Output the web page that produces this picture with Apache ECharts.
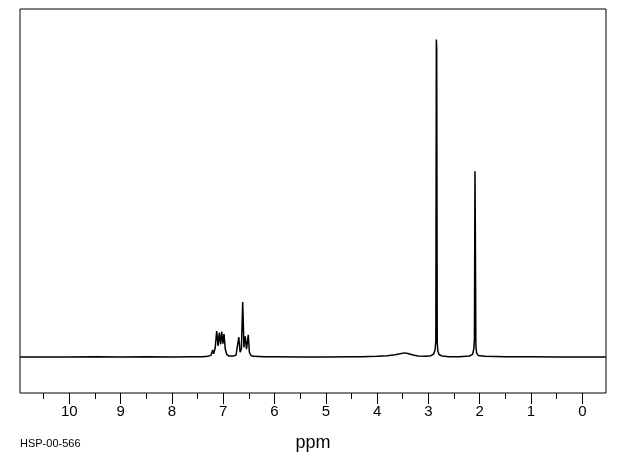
<!DOCTYPE html>
<html>
<head>
<meta charset="utf-8">
<script src="https://cdn.jsdelivr.net/npm/echarts@6/dist/echarts.min.js"></script>
<style>html,body{margin:0;padding:0;background:#fff;}#c{width:620px;height:455px;}</style>
</head>
<body>
<div id="c"></div>
<script>
// Chemical shift (ppm) and relative intensity
var ppm = [10.96, 10.0, 9.5, 9.0, 8.5, 8.0, 7.6, 7.4, 7.30, 7.24, 7.205, 7.185, 7.155, 7.127, 7.10, 7.076, 7.05, 7.029, 7.005, 6.984, 6.96, 6.93, 6.89, 6.80, 6.75, 6.72, 6.696, 6.67, 6.645, 6.620, 6.595, 6.571, 6.545, 6.511, 6.49, 6.46, 6.42, 6.2, 6.0, 5.5, 5.0, 4.5, 4.3, 4.0, 3.8, 3.65, 3.55, 3.47, 3.40, 3.30, 3.20, 3.05, 2.95, 2.90, 2.87, 2.855, 2.845, 2.838, 2.828, 2.815, 2.79, 2.73, 2.6, 2.4, 2.2, 2.14, 2.115, 2.103, 2.092, 2.085, 2.075, 2.06, 2.03, 1.9, 1.5, 1.0, 0.5, 0.0, -0.46];
var intensity = [0, 0, 0.1, 0, 0.1, 0, 0.1, 0.1, 0.2, 0.5, 2.2, 1.0, 3.0, 8.2, 3.5, 7.6, 4.0, 8.0, 4.2, 7.2, 2.5, 0.8, 0.3, 0.3, 0.6, 1.2, 6.3, 1.5, 2.5, 17.3, 3.0, 6.5, 2.5, 7.0, 1.5, 0.5, 0.2, 0.1, 0.1, 0, 0, 0.1, 0.1, 0.2, 0.4, 0.7, 1.0, 1.3, 1.1, 0.6, 0.3, 0.2, 0.4, 0.9, 2.2, 5.0, 100, 97, 4.5, 1.8, 0.7, 0.3, 0.1, 0.1, 0.3, 0.8, 2.5, 5.5, 58.5, 40.8, 3.5, 1.2, 0.5, 0.2, 0.1, 0.1, 0, 0, 0];
var majorTicks = [0, 1, 2, 3, 4, 5, 6, 7, 8, 9, 10];
var minorTicks = [0.5, 1.5, 2.5, 3.5, 4.5, 5.5, 6.5, 7.5, 8.5, 9.5, 10.5];
var axisName = 'ppm';
var sampleCode = 'HSP-00-566';

var chart = echarts.init(document.getElementById('c'), null, {renderer: 'canvas'});
var xMin = -0.462, xMax = 10.961;
chart.setOption({
  animation: false,
  backgroundColor: '#fff',
  grid: {left: 20, top: 9, width: 586, height: 384, containLabel: false, outerBoundsMode: 'none', show: true, borderColor: '#000', borderWidth: 1, backgroundColor: 'transparent'},
  xAxis: [{
    type: 'value', min: xMin, max: xMax, inverse: true,
    axisLine: {show: false, onZero: false},
    splitLine: {show: false},
    axisTick: {show: true, customValues: majorTicks, length: 11, lineStyle: {color: '#000', width: 1}},
    axisLabel: {show: true, customValues: majorTicks, margin: 11, color: '#000', fontFamily: 'Liberation Sans Narrow, Liberation Sans', fontSize: 15},
    name: axisName, nameLocation: 'middle', nameGap: 41,
    nameTextStyle: {color: '#000', fontFamily: 'Liberation Sans', fontSize: 18}
  }, {
    type: 'value', min: xMin, max: xMax, inverse: true, position: 'bottom',
    axisLine: {show: false, onZero: false}, splitLine: {show: false}, axisLabel: {show: false},
    axisTick: {show: true, customValues: minorTicks, length: 6, lineStyle: {color: '#000', width: 1}}
  }],
  yAxis: {type: 'value', min: -11.34, max: 109.6, show: false},
  graphic: [{type: 'text', left: 20, top: 438, style: {text: sampleCode, fill: '#000', font: '11px Liberation Sans'}}],
  series: [{
    type: 'line', xAxisIndex: 0, showSymbol: false, silent: true,
    lineStyle: {color: '#000', width: 1.5},
    data: ppm.map(function (p, i) { return [p, intensity[i]]; })
  }]
});
</script>
</body>
</html>
